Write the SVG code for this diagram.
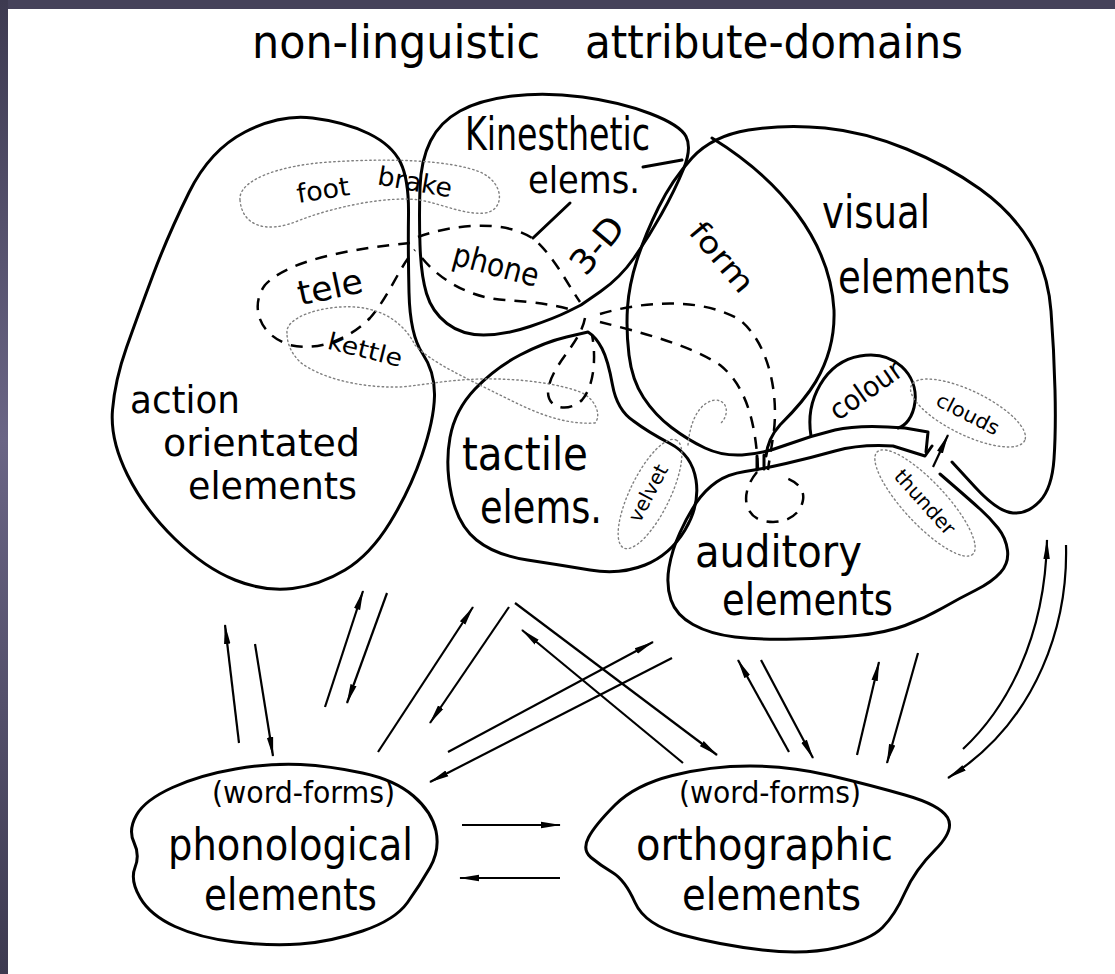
<svg xmlns="http://www.w3.org/2000/svg" width="1115" height="974" viewBox="0 0 1115 974">
<style>
.o{fill:none;stroke:#000;stroke-width:3;stroke-linejoin:round;stroke-linecap:round}
.d{fill:none;stroke:#000;stroke-width:2.5;stroke-dasharray:12 9;stroke-linecap:butt}
.dot{fill:none;stroke:#808080;stroke-width:1.4;stroke-dasharray:1.5 3;stroke-linecap:round}
.a{fill:none;stroke:#000;stroke-width:2.2;marker-end:url(#ah)}
.t{font-family:"DejaVu Sans Condensed","DejaVu Sans",sans-serif;fill:#000}
.c{text-anchor:middle;dominant-baseline:central}
</style>
<defs>
<linearGradient id="lb" x1="0" y1="0" x2="0" y2="1">
<stop offset="0" stop-color="#3d3a50"/><stop offset="0.45" stop-color="#6a6585"/><stop offset="1" stop-color="#3d3a50"/>
</linearGradient>
<marker id="ah" viewBox="0 0 20 8" refX="19" refY="4" markerWidth="20" markerHeight="8" markerUnits="userSpaceOnUse" orient="auto">
<path d="M0,0.8 L20,4 L0,7.2 Z" fill="#000"/>
</marker>
</defs>
<rect x="0" y="0" width="1115" height="974" fill="#fff"/>
<rect x="0" y="0" width="1115" height="9" fill="#45425a"/>
<rect x="0" y="0" width="8" height="974" fill="url(#lb)"/>

<g id="title">
<text class="t" x="252" y="58" font-size="46" textLength="288" lengthAdjust="spacingAndGlyphs">non-linguistic</text>
<text class="t" x="585" y="58" font-size="46" textLength="378" lengthAdjust="spacingAndGlyphs">attribute-domains</text>
</g>

<g id="action">
<path class="o" d="M245,132 Q280,114 312.5,118 Q345,122 368.5,133.5 Q392,145 400.5,162.5 Q409,180 408.5,215 Q408,250 409,292.5 Q410,335 422.5,353.5 Q435,372 434.5,396 Q434,420 422,455 Q410,490 390,522.5 Q370,555 345,570 Q320,585 292.5,588.5 Q265,592 235,580 Q205,568 175,539 Q145,510 127.5,475 Q110,440 112.5,410 Q115,380 126.5,347.5 Q138,315 153,275 Q168,235 189,192.5 Q210,150 245,132 Z"/>
<text class="t" x="130" y="413" font-size="37" textLength="110" lengthAdjust="spacingAndGlyphs">action</text>
<text class="t" x="163" y="456" font-size="37" textLength="197" lengthAdjust="spacingAndGlyphs">orientated</text>
<text class="t" x="188" y="499" font-size="37" textLength="169" lengthAdjust="spacingAndGlyphs">elements</text>
</g>

<g id="kinesthetic">
<path class="o" d="M420,245 Q419,215 420,187.5 Q421,160 430.5,141 Q440,122 460,111 Q480,100 512.5,96 Q545,92 582.5,97 Q620,102 650,113.5 Q680,125 686,136.5 Q692,148 683.5,169 Q675,190 661.5,214 Q648,238 634,258 Q620,278 600.5,291.5 L581,305 L568,311.5 Q555,318 530,326.5 Q505,335 483.5,335 Q462,335 447,323.5 Q432,312 426.5,293.5 Q421,275 420,245 Z"/>
<path class="o" d="M643,167 L682,160 M570,203 L533,238" stroke-width="2.5"/>
<text class="t" x="465" y="150" font-size="46" textLength="185" lengthAdjust="spacingAndGlyphs">Kinesthetic</text>
<text class="t" x="528" y="193" font-size="38" textLength="112" lengthAdjust="spacingAndGlyphs">elems.</text>
<text class="t c" x="597" y="245" font-size="34" textLength="64" lengthAdjust="spacingAndGlyphs" transform="rotate(-50 597 245)">3-D</text>
</g>

<g id="tactile">
<path class="o" d="M588,332 L566.5,337 Q545,342 520,355 Q495,368 475,389 Q455,410 450,437.5 Q445,465 451.5,495 Q458,525 476.5,540 Q495,555 527.5,560 Q560,565 590,570 Q620,575 645,565 Q670,555 685,530 Q700,505 696,480 Q692,455 670,443.5 Q648,432 633.5,421 Q617,410 612.5,385 Q608,360 602,348.5 Q596,337 588,332 Z"/>
<text class="t" x="462" y="470" font-size="46" textLength="126" lengthAdjust="spacingAndGlyphs">tactile</text>
<text class="t" x="480" y="523" font-size="46" textLength="122" lengthAdjust="spacingAndGlyphs">elems.</text>
</g>

<g id="visual">
<path class="o" d="M926,452 L928,432 L905,428 Q860,424 835,430 Q810,436 786,445 Q762,454 742,455 Q722,456 705,448 Q688,440 671.5,427.5 Q655,415 643.5,397.5 Q632,380 629,355 Q626,330 627.5,307.5 Q629,285 637,260 Q645,235 658.5,207.5 Q672,180 692,158 Q712,136 748.5,130 Q785,124 825,128 Q865,132 906.5,149 Q948,166 980,189 Q1012,212 1030,242 Q1048,272 1051,311 Q1054,350 1055,390 Q1056,430 1054,459 Q1052,488 1040,501 Q1028,514 1013,513 Q998,512 975,487 L952,462"/>
<text class="t" x="822" y="228" font-size="46" textLength="108" lengthAdjust="spacingAndGlyphs">visual</text>
<text class="t" x="838" y="293" font-size="46" textLength="172" lengthAdjust="spacingAndGlyphs">elements</text>
</g>

<g id="form">
<path class="o" d="M712,138 C780,180 830,240 834,310 C836,370 800,405 780,425 Q768,438 766,456" stroke-width="2.5"/>
<text class="t c" x="722" y="257" font-size="30" textLength="82" lengthAdjust="spacingAndGlyphs" transform="rotate(50 722 257)">form</text>
</g>

<g id="colour">
<path class="o" d="M811,436 C805,400 825,362 860,356 C895,350 918,375 915,402 C913,418 905,426 898,428" stroke-width="2.5"/>
<text class="t c" x="866" y="390" font-size="28" textLength="82" lengthAdjust="spacingAndGlyphs" transform="rotate(-35 866 390)">colour</text>
</g>

<g id="auditory">
<path class="o" d="M932,446 L925,456 L893,446 Q860,444 835,451 Q810,458 786,463.5 Q762,469 745,471.5 Q728,474 716.5,482 Q705,490 696.5,502.5 Q688,515 680,532.5 Q672,550 669,567.5 Q666,585 671,600 Q676,615 693,624.5 Q710,634 735,637 Q760,640 795,639 Q830,638 857.5,635.5 Q885,633 905,625.5 Q925,618 942.5,608 Q960,598 976,590 Q992,582 1000.5,572.5 Q1009,563 1007.5,550.5 Q1006,538 998,528 Q990,518 980,509 Q970,500 955,487 L940,474"/>
<path class="o" d="M757,456 L757,470 M764,455 L764,469" stroke-width="2"/>
<text class="t" x="695" y="567" font-size="44" textLength="167" lengthAdjust="spacingAndGlyphs">auditory</text>
<text class="t" x="722" y="615" font-size="44" textLength="171" lengthAdjust="spacingAndGlyphs">elements</text>
</g>

<g id="foot-brake">
<path class="dot" d="M240,200 C238,180 280,165 330,162 C390,158 450,160 480,172 C505,183 505,210 485,213 C465,215 445,205 420,200 C390,196 340,205 300,220 C265,235 242,225 240,200 Z"/>
<text class="t c" x="323" y="190" font-size="26" textLength="53" lengthAdjust="spacingAndGlyphs" transform="rotate(-9 323 190)">foot</text>
<text class="t c" x="415" y="182" font-size="26" textLength="75" lengthAdjust="spacingAndGlyphs" transform="rotate(10 415 182)">brake</text>
</g>

<g id="tele-phone">
<path class="d" d="M410,243 C360,248 290,258 265,285 C250,305 258,335 290,345 C320,352 350,338 370,318 C390,295 400,265 415,250"/>
<path class="d" d="M418,237 C450,225 505,218 535,240 C555,258 568,285 580,302"/>
<path class="d" d="M422,258 C440,280 470,298 505,300 C535,302 555,305 572,310"/>
<text class="t c" x="330" y="287" font-size="34" textLength="66" lengthAdjust="spacingAndGlyphs" transform="rotate(-12 330 287)">tele</text>
<text class="t c" x="496" y="265" font-size="32" textLength="88" lengthAdjust="spacingAndGlyphs" transform="rotate(15 496 265)">phone</text>
</g>

<g id="kettle">
<path class="dot" d="M287,333 C285,318 320,305 355,307 C385,309 405,325 415,345 C430,362 470,380 500,395 C530,410 560,425 595,423 C602,415 595,398 580,392 C560,384 520,378 480,379 C445,380 425,385 400,387 C360,388 320,378 300,362 C290,352 287,342 287,333 Z"/>
<text class="t c" x="365" y="350" font-size="24" textLength="76" lengthAdjust="spacingAndGlyphs" transform="rotate(14 365 350)">kettle</text>
</g>

<g id="links">
<path class="d" d="M585,318 C580,345 550,365 548,392 C548,410 570,412 582,400 C595,385 596,355 592,335"/>
<path class="d" d="M600,314 C640,302 700,296 740,320 C770,345 778,395 774,430 C772,445 770,455 768,470"/>
<path class="d" d="M600,322 C640,332 690,345 720,365 C745,385 756,420 758,470"/>
<path class="d" d="M757,472 C742,490 742,512 760,520 C780,526 800,518 803,500 C805,488 795,480 780,476"/>
</g>

<g id="velvet">
<ellipse class="dot" cx="650" cy="494" rx="60" ry="20" transform="rotate(-64 650 494)"/>
<path class="dot" d="M688,445 C690,420 700,402 715,400 C728,400 730,415 720,424"/>
<text class="t c" x="648" y="493" font-size="20" textLength="62" lengthAdjust="spacingAndGlyphs" transform="rotate(-62 648 493)">velvet</text>
</g>

<g id="clouds">
<ellipse class="dot" cx="968" cy="413" rx="63" ry="22" transform="rotate(26 968 413)"/>
<text class="t c" x="968" y="414" font-size="20" textLength="68" lengthAdjust="spacingAndGlyphs" transform="rotate(27 968 414)">clouds</text>
</g>

<g id="thunder">
<ellipse class="dot" cx="925" cy="503" rx="70" ry="21" transform="rotate(47 925 503)"/>
<text class="t c" x="925" y="502" font-size="20" textLength="80" lengthAdjust="spacingAndGlyphs" transform="rotate(48 925 502)">thunder</text>
</g>

<g id="phonological">
<path class="o" d="M235.5,769 Q271,763 300.5,764.5 Q330,766 362.5,773 Q395,780 413.5,796 Q432,812 436,831 Q440,850 430,867.5 Q420,885 407.5,902.5 Q395,920 362.5,931 Q330,942 300,944 Q270,946 235,942 Q200,938 175,926.5 Q150,915 140,897.5 Q130,880 135,867.5 Q140,855 134,842.5 Q128,830 136.5,815 Q145,800 172.5,787.5 Q200,775 235.5,769 Z"/>
<text class="t" x="212" y="803" font-size="30" textLength="183" lengthAdjust="spacingAndGlyphs">(word-forms)</text>
<text class="t" x="168" y="860" font-size="44" textLength="245" lengthAdjust="spacingAndGlyphs">phonological</text>
<text class="t" x="204" y="910" font-size="44" textLength="173" lengthAdjust="spacingAndGlyphs">elements</text>
</g>

<g id="orthographic">
<path class="o" d="M750,766 Q790,766 830,775.5 Q870,785 905,795 Q940,805 947.5,817.5 Q955,830 935,850 Q915,870 905,892.5 Q895,915 882.5,927.5 Q870,940 837.5,947.5 Q805,955 762.5,950 Q720,945 682.5,935 Q645,925 635,902.5 Q625,880 612.5,872.5 Q600,865 591,857.5 Q582,850 588.5,837.5 Q595,825 615,805 Q635,785 672.5,775.5 Q710,766 750,766 Z"/>
<text class="t" x="679" y="803" font-size="30" textLength="182" lengthAdjust="spacingAndGlyphs">(word-forms)</text>
<text class="t" x="636" y="860" font-size="44" textLength="257" lengthAdjust="spacingAndGlyphs">orthographic</text>
<text class="t" x="682" y="910" font-size="44" textLength="179" lengthAdjust="spacingAndGlyphs">elements</text>
</g>

<g id="connectors">
<path class="a" d="M933,467 L948,435"/>
<path class="a" d="M239,743 L225,625"/>
<path class="a" d="M255,644 L273,756"/>
<path class="a" d="M325,707 L363,591"/>
<path class="a" d="M387,593 L347,703"/>
<path class="a" d="M378,752 L473,607"/>
<path class="a" d="M509,607 L430,723"/>
<path class="a" d="M448,752 L653,642"/>
<path class="a" d="M672,658 L430,782"/>
<path class="a" d="M515,603 L717,755"/>
<path class="a" d="M683,763 L522,630"/>
<path class="a" d="M789,752 L738,660"/>
<path class="a" d="M761,660 L813,758"/>
<path class="a" d="M857,755 L879,662"/>
<path class="a" d="M918,653 L887,763"/>
<path class="a" d="M963,749 C1005,710 1045,640 1047,540"/>
<path class="a" d="M1066,545 C1068,620 1040,720 948,778"/>
<path class="a" d="M462,825 L560,825"/>
<path class="a" d="M560,878 L460,878"/>
</g>
</svg>
